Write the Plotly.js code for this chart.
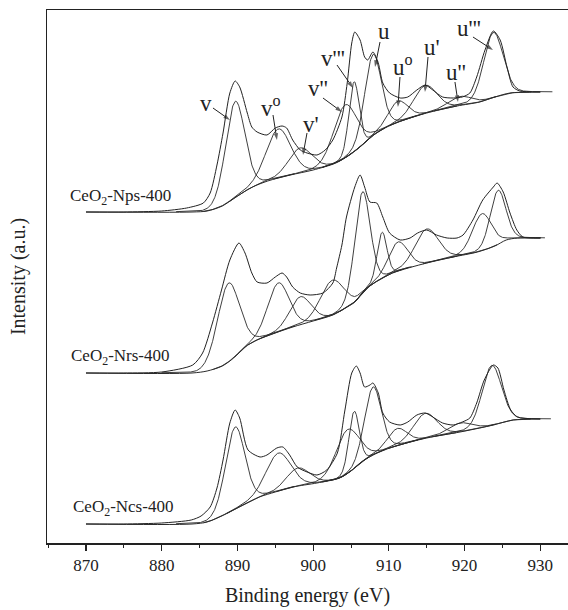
<!DOCTYPE html>
<html><head><meta charset="utf-8">
<script src="https://cdn.plot.ly/plotly-3.0.1.min.js"></script>
<style>html,body{margin:0;padding:0;background:#fff}#chart{width:568px;height:610px}</style>
</head><body><div id="chart"></div>
<script>
// ---------------- data ----------------
const sampleNames = ['CeO<sub>2</sub>-Nps-400', 'CeO<sub>2</sub>-Nrs-400', 'CeO<sub>2</sub>-Ncs-400'];
const sampleLabelE = [874.5, 874.6, 874.9];
const sampleLabelI = [346, 186, 35];

// measured spectra (binding energy, intensity a.u.)
const npsEnergy = [870, 875, 880, 883.3, 885.5, 886.4, 887.3, 888.1, 889.0, 889.7, 890.3, 891.3, 891.9, 892.6, 893.9, 895.0, 895.9, 896.5, 897.3, 898.3, 899.2, 900.5, 901.6, 902.6, 903.8, 904.5, 905.1, 905.5, 906.2, 906.8, 907.2, 907.9, 908.6, 909.2, 910.1, 911.5, 912.5, 913.7, 914.8, 915.8, 917.1, 918.5, 919.7, 920.7, 921.6, 922.7, 923.8, 924.7, 925.6, 926.4, 927.3, 930];
const npsIntensity = [331, 331, 332, 335, 340, 350, 378, 410, 450, 462, 456, 430, 416, 411, 408, 415, 417, 415, 403, 393, 390, 388, 393, 403, 426, 460, 500, 511, 503, 486, 483, 491, 480, 460, 450, 445, 446, 453, 458, 453, 446, 445, 446, 450, 466, 493, 512, 503, 476, 456, 452, 451];

const nrsEnergy = [870, 875, 880, 884.1, 885.4, 886.7, 887.9, 889.0, 890.2, 891.0, 891.9, 892.6, 893.9, 895.0, 895.9, 896.5, 897.3, 898.3, 899.6, 901.3, 902.6, 903.1, 903.8, 904.4, 905.5, 906.2, 906.8, 907.5, 908.4, 909.2, 910.1, 911.5, 912.8, 913.8, 915.0, 916.3, 917.7, 919.0, 919.8, 921.1, 922.4, 923.8, 924.3, 925.1, 926.0, 926.9, 927.7, 930];
const nrsIntensity = [170, 170, 171, 178, 190, 220, 253, 283, 300, 290, 270, 261, 260, 266, 270, 266, 256, 250, 248, 250, 260, 275, 298, 326, 356, 368, 356, 341, 340, 326, 310, 303, 305, 310, 313, 308, 305, 305, 308, 323, 343, 356, 360, 351, 330, 313, 306, 305];

const ncsEnergy = [870, 875, 880, 883.9, 885.2, 886.4, 887.3, 888.1, 889.0, 889.7, 890.3, 891.4, 893.0, 893.9, 895.2, 896.0, 896.9, 897.9, 899.2, 900.5, 901.8, 903.2, 904.2, 905.1, 905.7, 906.2, 906.8, 907.5, 907.9, 908.6, 909.2, 910.1, 911.5, 912.5, 913.7, 914.8, 915.8, 917.1, 918.5, 919.7, 920.7, 921.6, 922.6, 923.8, 924.4, 925.2, 926.1, 927.0, 930];
const ncsIntensity = [19, 19, 20, 23, 27, 36, 55, 83, 120, 133, 125, 93, 86, 88, 95, 96, 88, 76, 71, 68, 73, 90, 133, 170, 177, 170, 156, 158, 160, 150, 130, 121, 118, 121, 128, 130, 126, 120, 118, 121, 125, 140, 163, 178, 175, 153, 133, 126, 124];

// Shirley-type backgrounds
const npsBgEnergy = [870, 884, 886, 888, 890, 892, 894, 897, 900, 903, 905, 906.5, 908, 910, 912, 915, 919, 922, 924, 926, 930];
const npsBgIntensity = [331, 331, 332, 337, 347, 356, 362, 368, 373, 380, 389, 398, 408, 417, 423, 430, 437, 441, 446, 450, 451];
const nrsBgEnergy = [870, 884, 886, 888, 889.5, 891, 892.6, 895, 897.3, 900, 902.6, 904.5, 905.5, 906.5, 907.5, 908.5, 910.5, 915, 918.5, 921.7, 924, 925.5, 927, 930];
const nrsBgIntensity = [170, 170, 172, 177, 185, 196, 203, 210, 216, 222, 228, 236, 241, 250, 257, 262, 270, 280, 286, 291, 297, 303, 305, 305];
const ncsBgEnergy = [870, 884, 886, 888.2, 890.7, 892.9, 895, 897.3, 900.5, 903.5, 905, 906.2, 907.9, 910.5, 915, 919.4, 922, 923.8, 926.4, 930];
const ncsBgIntensity = [19, 19, 21, 28, 38, 46, 51, 56, 60, 65, 72, 80, 88, 96, 105, 111, 115, 118, 123, 124];

// fitted components: centre (eV), height above background, FWHM (eV)
const npsPeakCenter = [889.7, 895.4, 898.3, 904.2, 905.4, 907.9, 911.2, 914.8, 919.4, 923.8];
const npsPeakHeight = [96, 49, 25, 53, 70, 81, 21, 28, 9, 65];
const npsPeakFwhm   = [3.0, 3.8, 3.6, 3.6, 1.6, 2.6, 3.0, 3.6, 3.6, 3.0];
const nrsPeakCenter = [888.8, 895.4, 898.3, 902.5, 906.5, 909.1, 911.2, 915.0, 922.3, 924.4];
const nrsPeakHeight = [79, 49, 28, 35, 101, 46, 29, 34, 37, 54];
const nrsPeakFwhm   = [3.4, 3.3, 3.3, 3.6, 2.4, 1.5, 3.0, 3.6, 3.0, 2.4];
const ncsPeakCenter = [889.7, 895.4, 898.0, 904.5, 905.4, 907.9, 911.1, 914.8, 919.4, 923.6];
const ncsPeakHeight = [82, 38, 18, 44, 57, 68, 17, 25, 9, 60];
const ncsPeakFwhm   = [3.0, 3.8, 3.6, 3.6, 1.6, 2.6, 3.0, 3.6, 3.6, 3.0];

// peak labels (on the top spectrum): text position, arrow tail, arrow tip
const peakLabels = ['v', 'v<sup>o</sup>', "v'", "v''", "v'''", 'u', 'u<sup>o</sup>', "u'", "u''", "u'''"];
const labelTextE = [885.85, 894.43, 899.71, 900.64, 902.62, 909.36, 911.86, 915.69, 918.86, 920.58];
const labelTextI = [440, 437, 419, 455, 485, 512, 478, 496, 471, 515];
const arrowTailE = [886.77, 894.70, 899.19, 901.30, 903.15, 908.83, 911.47, 915.17, 918.73, 921.11];
const arrowTailI = [435, 428, 410, 445, 478, 501, 466, 486, 461, 506];
const labelTipE  = [889.02, 895.22, 898.66, 903.81, 905.26, 908.17, 911.20, 914.77, 919.13, 923.75];
const labelTipI  = [423, 403, 388, 431, 455, 476, 436, 451, 441, 493];

// ---------------- drawing ----------------
function monotone(xs, ys) {
  const n = xs.length, d = [], m = new Array(n);
  for (let i = 0; i < n - 1; i++) d.push((ys[i + 1] - ys[i]) / (xs[i + 1] - xs[i]));
  m[0] = d[0]; m[n - 1] = d[n - 2];
  for (let i = 1; i < n - 1; i++) m[i] = (d[i - 1] * d[i] <= 0) ? 0 : (d[i - 1] + d[i]) / 2;
  for (let i = 0; i < n - 1; i++) {
    if (d[i] === 0) { m[i] = 0; m[i + 1] = 0; continue; }
    const a = m[i] / d[i], b = m[i + 1] / d[i], s = a * a + b * b;
    if (s > 9) { const t = 3 / Math.sqrt(s); m[i] = t * a * d[i]; m[i + 1] = t * b * d[i]; }
  }
  return function (x) {
    if (x <= xs[0]) return ys[0];
    if (x >= xs[n - 1]) return ys[n - 1];
    let i = 0; while (x > xs[i + 1]) i++;
    const h = xs[i + 1] - xs[i], t = (x - xs[i]) / h, t2 = t * t, t3 = t2 * t;
    return (2 * t3 - 3 * t2 + 1) * ys[i] + (t3 - 2 * t2 + t) * h * m[i] + (-2 * t3 + 3 * t2) * ys[i + 1] + (t3 - t2) * h * m[i + 1];
  };
}
function peakShape(x, c, h, w) {
  const d2 = (x - c) * (x - c) / (w * w);
  return h * (0.9 * Math.exp(-4 * Math.LN2 * d2) + 0.1 / (1 + 4 * d2));
}

const samples = [
  {e: npsEnergy, i: npsIntensity, be: npsBgEnergy, bi: npsBgIntensity, pc: npsPeakCenter, ph: npsPeakHeight, pw: npsPeakFwhm},
  {e: nrsEnergy, i: nrsIntensity, be: nrsBgEnergy, bi: nrsBgIntensity, pc: nrsPeakCenter, ph: nrsPeakHeight, pw: nrsPeakFwhm},
  {e: ncsEnergy, i: ncsIntensity, be: ncsBgEnergy, bi: ncsBgIntensity, pc: ncsPeakCenter, ph: ncsPeakHeight, pw: ncsPeakFwhm}
];
const lineCol = '#2a2a2a';
const traces = [];
samples.forEach(s => {
  traces.push({x: s.be, y: s.bi, type: 'scatter', mode: 'lines', line: {color: lineCol, width: 1, shape: 'spline', smoothing: 0.8}, hoverinfo: 'skip'});
  const bgf = monotone(s.be, s.bi);
  s.pc.forEach((c, k) => {
    const w = s.pw[k], h = s.ph[k], xs = [], ys = [];
    for (let x = c - 2.6 * w; x <= c + 2.6 * w + 1e-9; x += 0.05) { xs.push(x); ys.push(bgf(x) + peakShape(x, c, h, w)); }
    traces.push({x: xs, y: ys, type: 'scatter', mode: 'lines', line: {color: lineCol, width: 0.9}, hoverinfo: 'skip'});
  });
  traces.push({x: s.e, y: s.i, type: 'scatter', mode: 'lines', line: {color: '#222', width: 1, shape: 'spline', smoothing: 0.7}, hoverinfo: 'skip'});
});
// label pointer arrows
peakLabels.forEach((t, k) => {
  traces.push({x: [arrowTailE[k], labelTipE[k]], y: [arrowTailI[k], labelTipI[k]], type: 'scatter', mode: 'lines+markers',
    line: {color: '#222', width: 1},
    marker: {symbol: ['circle', 'arrow'], size: [0, 7], angleref: 'previous', color: '#222', line: {width: 0}},
    hoverinfo: 'skip'});
});

const font = 'Liberation Serif, Times New Roman, serif';
const annotations = [];
sampleNames.forEach((t, k) => annotations.push({x: sampleLabelE[k], y: sampleLabelI[k], xref: 'x', yref: 'y', text: t, showarrow: false, font: {family: font, size: 17, color: '#222'}}));
peakLabels.forEach((t, k) => annotations.push({x: labelTextE[k], y: labelTextI[k], xref: 'x', yref: 'y', text: t, showarrow: false,
  font: {family: font, size: 23, color: '#222'}}));

const layout = {
  width: 568, height: 610,
  margin: {l: 47, r: 0, t: 10, b: 67},
  paper_bgcolor: '#fff', plot_bgcolor: '#fff',
  showlegend: false,
  font: {family: font, color: '#222'},
  xaxis: {
    range: [864.85, 933.66], showline: true, linecolor: '#222', linewidth: 1.5, mirror: true,
    ticks: 'outside', ticklen: 6, tickwidth: 1.2, tickcolor: '#222',
    tickmode: 'linear', tick0: 870, dtick: 10,
    minor: {tickmode: 'linear', tick0: 865, dtick: 5, ticks: 'outside', ticklen: 3, tickwidth: 1, tickcolor: '#222', showgrid: false},
    showgrid: false, zeroline: false,
    tickfont: {family: font, size: 17, color: '#222'},
    title: {text: 'Binding energy (eV)', font: {family: font, size: 20, color: '#222'}, standoff: 14}
  },
  yaxis: {
    range: [0, 533], showline: true, linecolor: '#222', linewidth: 1.5, mirror: false,
    ticks: '', showticklabels: false, showgrid: false, zeroline: false,
    title: {text: 'Intensity (a.u.)', font: {family: font, size: 20, color: '#222'}, standoff: 14}
  },
  annotations: annotations
};
Plotly.newPlot('chart', traces, layout, {displayModeBar: false, staticPlot: true});
</script></body></html>
